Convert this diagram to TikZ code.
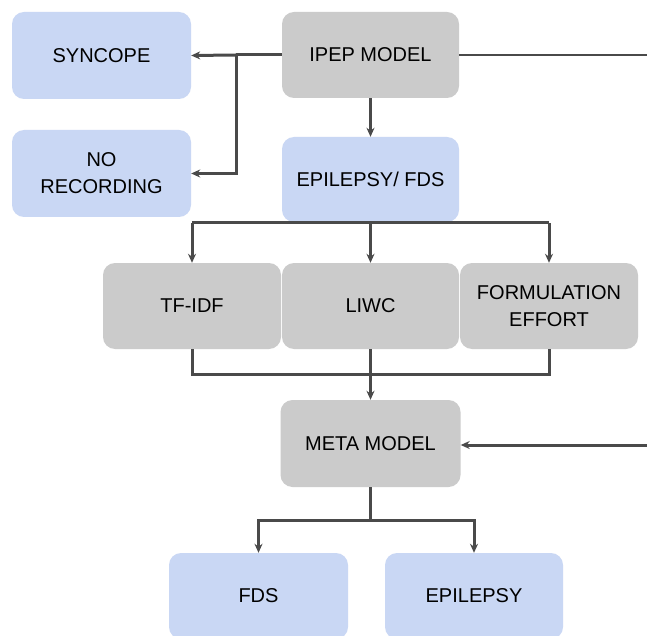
\documentclass[tikz,border=0pt]{standalone}
\usepackage{fontspec}
\setmainfont{Liberation Sans}
\usetikzlibrary{arrows.meta}
\definecolor{boxblue}{HTML}{C9D7F4}
\definecolor{boxgray}{HTML}{CBCBCB}
\definecolor{linegray}{HTML}{4A4A4A}
\tikzset{
  basebox/.style={rectangle, rounded corners=12pt, inner sep=2pt, align=center,
    font=\fontsize{20pt}{27pt}\selectfont, text=black},
  bluebox/.style={basebox, fill=boxblue},
  graybox/.style={basebox, fill=boxgray},
  conn/.style={draw=linegray, line width=3pt, line join=miter},
  arr/.style={conn, -{Stealth[length=9pt,width=8pt]}},
}
\begin{document}
\begin{tikzpicture}[x=1pt,y=-1pt]
\clip (0,0) rectangle (647,636);
\fill[white] (0,0) rectangle (647,636);
% nodes
\node[bluebox, minimum width=179pt, minimum height=87pt] (syn) at (101.5,55.5) {SYNCOPE};
\node[bluebox, minimum width=179pt, minimum height=87pt] (norec) at (101.5,173.5) {NO\\RECORDING};
\node[graybox, minimum width=177pt, minimum height=86pt] (ipep) at (370.5,55) {IPEP MODEL};
\node[bluebox, minimum width=177pt, minimum height=85pt] (epi) at (370.5,179.5) {EPILEPSY/ FDS};
\node[graybox, minimum width=178pt, minimum height=86pt] (tfidf) at (192,306) {TF-IDF};
\node[graybox, minimum width=177pt, minimum height=86pt] (liwc) at (370.5,306) {LIWC};
\node[graybox, minimum width=178pt, minimum height=86pt] (form) at (549,306) {FORMULATION\\EFFORT};
\node[graybox, minimum width=180pt, minimum height=87pt] (meta) at (370.5,443.5) {META MODEL};
\node[bluebox, minimum width=179pt, minimum height=86pt] (fds) at (258.5,596) {FDS};
\node[bluebox, minimum width=178pt, minimum height=86pt] (epil) at (474,596) {EPILEPSY};
% coordinates
\coordinate (j1) at (236,55);
\coordinate (rtop) at (647,55);
\coordinate (rmeta) at (647,445);
\coordinate (b1) at (370.5,223);
\coordinate (m1) at (370.5,374);
\coordinate (b2) at (370.5,520);
% connectors
\draw[conn] (ipep.west) -- (j1);
\draw[arr] (j1) -- (syn.east);
\draw[arr] (j1) |- (norec.east);
\draw[draw=linegray, line width=1.6pt] (ipep.east) -- (rtop);
\draw[arr] (ipep.south) -- (epi.north);
\draw[conn] (tfidf.north |- b1) -- (form.north |- b1);
\draw[arr] (tfidf.north |- b1) -- (tfidf.north);
\draw[arr] (b1) -- (liwc.north);
\draw[arr] (form.north |- b1) -- (form.north);
\draw[conn] (tfidf.south) |- (m1) -| (form.south);
\draw[conn] (liwc.south) -- (m1);
\draw[arr] (m1) -- (meta.north);
\draw[arr] (rmeta) -- (meta.east |- rmeta);
\draw[conn] (meta.south) -- (b2);
\draw[arr] (b2) -| (fds.north);
\draw[arr] (b2) -| (epil.north);
\end{tikzpicture}
\end{document}
